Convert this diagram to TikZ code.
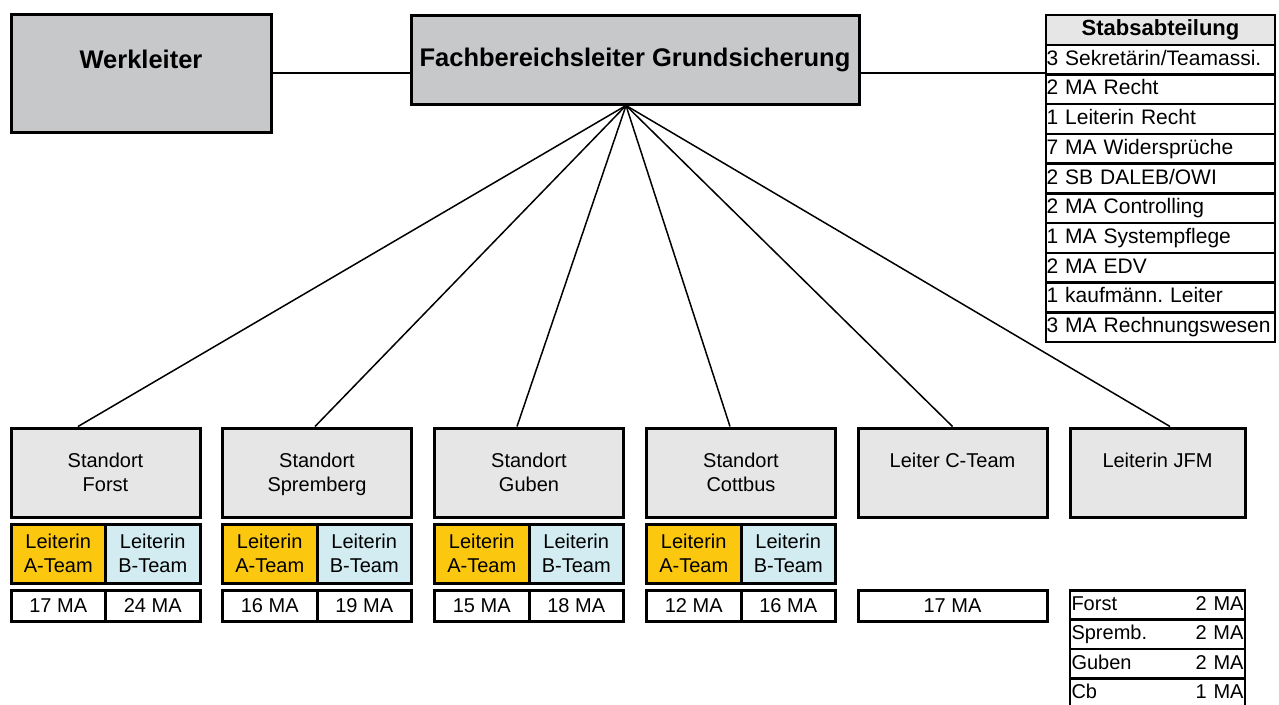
\documentclass[tikz,border=0pt]{standalone}
\usepackage{fontspec}
\setmainfont{Liberation Sans}
\usetikzlibrary{positioning}

\definecolor{chefgray}{HTML}{C7C8CA}
\definecolor{teamorange}{HTML}{FCC80F}
\definecolor{teamblue}{HTML}{D2ECF2}
\definecolor{dotgray}{HTML}{E6E6E6}
\frenchspacing

\begin{document}
\begin{tikzpicture}[x=1pt, y=-1pt, on grid, line width=1.5pt,
    box/.style={draw, line width=3pt, inner sep=0pt, align=center,
      font=\fontsize{20}{24}\selectfont},
    chef/.style={box, fill=chefgray, font=\bfseries\fontsize{25.5}{29}\selectfont},
    standort/.style={box, fill=dotgray, minimum width=189pt, minimum height=89pt},
    teamA/.style={box, fill=teamorange, minimum width=94.5pt, minimum height=59pt},
    teamB/.style={box, fill=teamblue, minimum width=94.5pt, minimum height=59pt},
    ma/.style={box, fill=white, minimum width=94.5pt, minimum height=31pt,
      text height=14.5pt, text depth=0pt},
    stab/.style={draw, line width=2.5pt, inner xsep=0.5pt, inner ysep=1.5pt, minimum height=29.73pt,
      text width=228pt, align=left, text height=15.5pt, text depth=4.5pt,
      font=\fontsize{21}{24}\selectfont},
    jfm/.style={draw, line width=2.5pt, inner sep=1.5pt, minimum height=29.3pt,
      text width=172pt, align=left, text height=15pt, text depth=4.2pt,
      font=\fontsize{20}{24}\selectfont}]
    \useasboundingbox (0,0) rectangle (1279,704);

    % Leitung
    \node[chef, minimum width=448pt, minimum height=89pt] (fb) at (635,59.5)
      {Fachbereichsleiter Grundsicherung};
    \node[chef, minimum width=260pt, minimum height=118pt, below left=14pt and 494pt of fb] (wl)
      {Werkleiter\\\mbox{}};
    \coordinate[below left=0pt and 9pt of fb.south] (apex);

    % Stabsabteilung
    \node[stab, fill=dotgray, align=center, font=\bfseries\fontsize{22}{24}\selectfont] (s0)
      at (1160.5,29.9) {Stabsabteilung};
    \node[stab, below=29.73pt of s0] (s1) {3 Sekretärin/Teamassi.};
    \node[stab, below=29.73pt of s1] (s2) {2 MA Recht};
    \node[stab, below=29.73pt of s2] (s3) {1 Leiterin Recht};
    \node[stab, below=29.73pt of s3] (s4) {7 MA Widersprüche};
    \node[stab, below=29.73pt of s4] (s5) {2 SB DALEB/OWI};
    \node[stab, below=29.73pt of s5] (s6) {2 MA Controlling};
    \node[stab, below=29.73pt of s6] (s7) {1 MA Systempflege};
    \node[stab, below=29.73pt of s7] (s8) {2 MA EDV};
    \node[stab, below=29.73pt of s8] (s9) {1 kaufmänn. Leiter};
    \node[stab, below=29.73pt of s9] (s10) {3 MA Rechnungswesen};

    % Standorte
    \node[standort] (forst) at (105.5,472.5) {Standort\\Forst};
    \node[standort, right=211.5pt of forst] (spremberg) {Standort\\\smash{Spremberg}};
    \node[standort, right=212pt of spremberg] (guben) {Standort\\Guben};
    \node[standort, right=212pt of guben] (cottbus) {Standort\\Cottbus};
    \node[standort, right=211.5pt of cottbus] (cteam) {Leiter C-Team\\\mbox{}};
    \node[standort, minimum width=175pt, right=205pt of cteam] (jfm) {Leiterin JFM\\\mbox{}};

    % Teams
    \node[teamA, below left=81pt and 47.25pt of forst] (forstA) {Leiterin\\A-Team};
    \node[teamB, right=94.5pt of forstA] (forstB) {Leiterin\\B-Team};
    \node[ma, below=52pt of forstA] (forstAma) {17 MA};
    \node[ma, below=52pt of forstB] (forstBma) {24 MA};

    \node[teamA, below left=81pt and 47.25pt of spremberg] (spremA) {Leiterin\\A-Team};
    \node[teamB, right=94.5pt of spremA] (spremB) {Leiterin\\B-Team};
    \node[ma, below=52pt of spremA] (spremAma) {16 MA};
    \node[ma, below=52pt of spremB] (spremBma) {19 MA};

    \node[teamA, below left=81pt and 47.25pt of guben] (gubenA) {Leiterin\\A-Team};
    \node[teamB, right=94.5pt of gubenA] (gubenB) {Leiterin\\B-Team};
    \node[ma, below=52pt of gubenA] (gubenAma) {15 MA};
    \node[ma, below=52pt of gubenB] (gubenBma) {18 MA};

    \node[teamA, below left=81pt and 47.25pt of cottbus] (cottbusA) {Leiterin\\A-Team};
    \node[teamB, right=94.5pt of cottbusA] (cottbusB) {Leiterin\\B-Team};
    \node[ma, below=52pt of cottbusA] (cottbusAma) {12 MA};
    \node[ma, below=52pt of cottbusB] (cottbusBma) {16 MA};

    \node[ma, minimum width=189pt, below=133pt of cteam] (cteamma) {17 MA};

    % JFM
    \node[jfm, below=132.5pt of jfm] (j1) {Forst\hfill 2 MA};
    \node[jfm, below=29.3pt of j1] (j2) {Spremb.\hfill 2 MA};
    \node[jfm, below=29.3pt of j2] (j3) {Guben\hfill 2 MA};
    \node[jfm, below=29.3pt of j3] (j4) {Cb\hfill 1 MA};

    % Linien
    \draw (wl.east |- 0,73) -- (fb.west |- 0,73);
    \draw (fb.east |- 0,73) -- (s1.west |- 0,73);
    \draw (apex) -- ([xshift=-27.5pt]forst.north);
    \draw (apex) -- ([xshift=-2pt]spremberg.north);
    \draw (apex) -- ([xshift=-12pt]guben.north);
    \draw (apex) -- ([xshift=-11pt]cottbus.north);
    \draw (apex) -- (cteam.north);
    \draw (apex) -- ([xshift=12.5pt]jfm.north);
  \end{tikzpicture}
\end{document}
